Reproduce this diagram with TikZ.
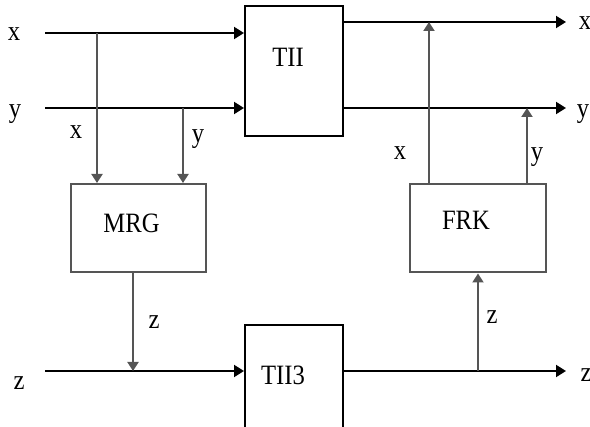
\documentclass[tikz,border=0pt]{standalone}
\usepackage{fontspec}
\setmainfont{Liberation Serif}[FakeStretch=0.88]
\usetikzlibrary{arrows.meta}
\definecolor{LineGray}{RGB}{85,85,85}
\tikzset{
	blk/.style={draw=black,line width=1pt,inner sep=0pt},
	gblk/.style={draw=LineGray,line width=1pt,inner sep=0pt},
	sig/.style={draw=black,line width=1pt,-{Triangle[length=5pt,width=6pt]}},
	tap/.style={draw=LineGray,line width=1pt,-{Triangle[length=4.5pt,width=5.5pt]}},
	lbl/.style={anchor=base,inner sep=0pt,font=\fontsize{14}{16}\selectfont},
}
\begin{document}
\begin{tikzpicture}[x=0.5pt,y=-0.5pt]
			\useasboundingbox (0,0) rectangle (590,427);
			% blocks
			\node[blk,minimum width=49pt,minimum height=65pt] (TII) at (294,71) {};
			\node[blk,minimum width=49pt,minimum height=52.5pt] (TII3) at (294,377.5) {};
			\node[gblk,minimum width=67.5pt,minimum height=44pt] (MRG) at (138.5,228) {};
			\node[gblk,minimum width=68pt,minimum height=44pt] (FRK) at (478,228.5) {};
			\node[lbl] (tTII) at (288,67) {TII};
			\node[lbl] (tTII3) at (283,385) {TII3};
			\node[lbl] (tMRG) at (131.5,233) {MRG};
			\node[lbl] (tFRK) at (466,230) {FRK};
			% signal points
			\coordinate (xin) at (45,33);
			\coordinate (yin) at (45,108);
			\coordinate (zin) at (45,371);
			\coordinate (xout) at (566,22);
			\coordinate (yout) at (566,108);
			\coordinate (zout) at (566,371);
			\coordinate (bx) at (97,33);
			\coordinate (by) at (183,108);
			\coordinate (bz) at (133,371);
			\coordinate (fz) at (478,371);
			\coordinate (fx) at (429,22);
			\coordinate (fy) at (527,108);
			% main lines
			\draw[sig] (xin) -- (xin -| TII.west);
			\draw[sig] (yin) -- (yin -| TII.west);
			\draw[sig] (zin) -- (zin -| TII3.west);
			\draw[sig] (xout -| TII.east) -- (xout);
			\draw[sig] (yin -| TII.east) -- (yout);
			\draw[sig] (zin -| TII3.east) -- (zout);
			% taps
			\draw[tap] (bx) -- (bx |- MRG.north);
			\draw[tap] (by) -- (by |- MRG.north);
			\draw[tap] (MRG.south -| bz) -- (bz);
			\draw[tap] (fz) -- (fz |- FRK.south);
			\draw[tap] (FRK.north -| fx) -- (fx);
			\draw[tap] (FRK.north -| fy) -- (fy);
			% labels
			\node[lbl] (lxi) at (14,41) {x};
			\node[lbl] (lyi) at (15,118) {y};
			\node[lbl] (lzi) at (19,390) {z};
			\node[lbl] (lxm) at (76,139) {x};
			\node[lbl] (lym) at (198,143) {y};
			\node[lbl] (lzm) at (154,329) {z};
			\node[lbl] (lxf) at (400,160) {x};
			\node[lbl] (lyf) at (537,161) {y};
			\node[lbl] (lzf) at (492,324) {z};
			\node[lbl] (lxo) at (585,30) {x};
			\node[lbl] (lyo) at (583,118) {y};
			\node[lbl] (lzo) at (586,382) {z};
		\end{tikzpicture}
\end{document}
